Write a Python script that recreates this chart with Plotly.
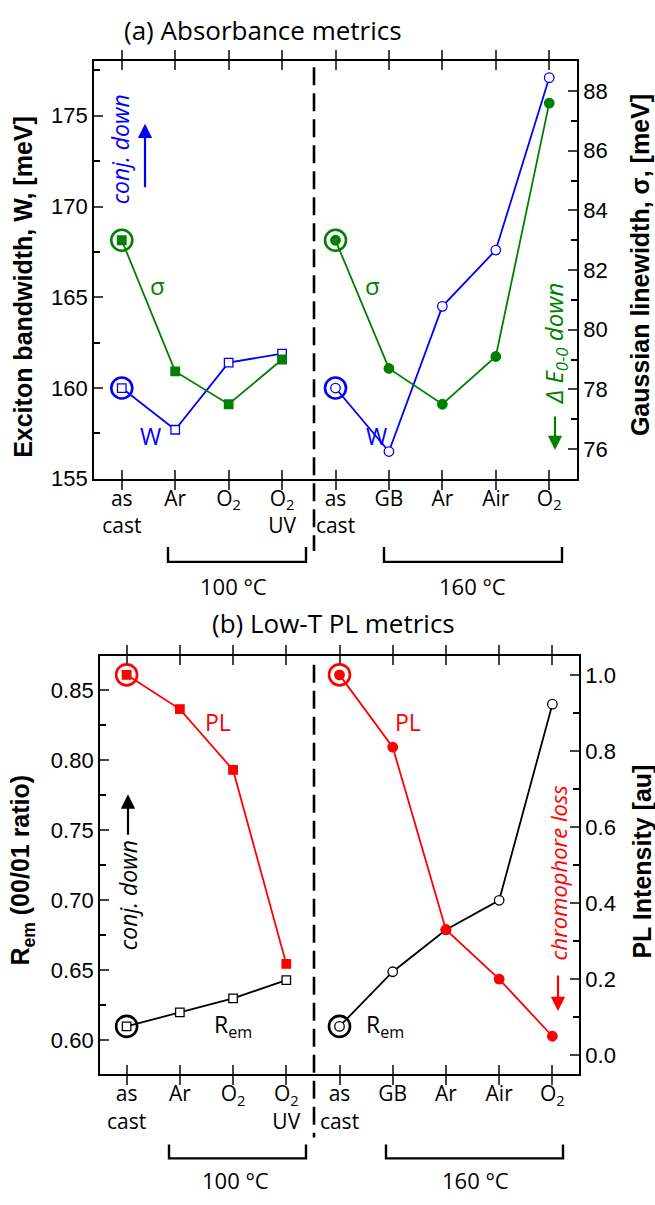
import plotly.graph_objects as go

# ---- data -------------------------------------------------------------
categories = ["as cast", "Ar", "O2", "O2 UV", "as cast", "GB", "Ar", "Air", "O2"]
tick_text = ["as<br>cast", "Ar", "O<sub>2</sub>", "O<sub>2</sub><br>UV",
             "as<br>cast", "GB", "Ar", "Air", "O<sub>2</sub>"]
x_100 = [0, 1, 2, 3]          # as cast + 100 °C anneals
x_160 = [4, 5, 6, 7, 8]       # as cast + 160 °C anneals

# (a) absorbance metrics
W_100 = [160.0, 157.7, 161.4, 161.9]               # exciton bandwidth [meV]
W_160 = [160.0, 156.5, 164.5, 167.6, 177.1]
sigma_100 = [83.0, 78.6, 77.5, 79.0]               # Gaussian linewidth [meV]
sigma_160 = [83.0, 78.7, 77.5, 79.1, 87.6]

# (b) low-T PL metrics
Rem_100 = [0.610, 0.620, 0.630, 0.643]             # 00/01 ratio
Rem_160 = [0.610, 0.649, 0.679, 0.700, 0.840]
PL_100 = [1.00, 0.91, 0.75, 0.24]                  # PL intensity [au]
PL_160 = [1.00, 0.81, 0.33, 0.20, 0.05]

BLUE = "#0000FF"
GREEN = "#008000"
RED = "#FF0000"
BLACK = "#000000"

W_PX, H_PX = 655, 1205


def px(x):
    return x / W_PX


def py(y):
    return 1 - y / H_PX


fig = go.Figure()


def series(x, y, xa, ya, color, symbol, filled):
    size = 8.5 if symbol == "square" else 9.5
    fig.add_trace(go.Scatter(
        x=x, y=y, xaxis=xa, yaxis=ya, mode="lines+markers",
        line=dict(color=color, width=1.8),
        marker=dict(symbol=symbol, size=size,
                    color=color if filled else "white",
                    line=dict(color=color, width=1.3)),
        showlegend=False, cliponaxis=False))


def ring(x, y, xa, ya, color):
    fig.add_trace(go.Scatter(
        x=[x], y=[y], xaxis=xa, yaxis=ya, mode="markers",
        marker=dict(symbol="circle-open", size=21, color=color,
                    line=dict(color=color, width=2.6)),
        showlegend=False, cliponaxis=False))


# panel (a)
series(x_100, sigma_100, "x", "y2", GREEN, "square", True)
series(x_160, sigma_160, "x", "y2", GREEN, "circle", True)
series(x_100, W_100, "x", "y", BLUE, "square", False)
series(x_160, W_160, "x", "y", BLUE, "circle", False)
ring(x_100[0], sigma_100[0], "x", "y2", GREEN)
ring(x_160[0], sigma_160[0], "x", "y2", GREEN)
ring(x_100[0], W_100[0], "x", "y", BLUE)
ring(x_160[0], W_160[0], "x", "y", BLUE)

# panel (b)
series(x_100, PL_100, "x2", "y4", RED, "square", True)
series(x_160, PL_160, "x2", "y4", RED, "circle", True)
series(x_100, Rem_100, "x2", "y3", BLACK, "square", False)
series(x_160, Rem_160, "x2", "y3", BLACK, "circle", False)
ring(x_100[0], PL_100[0], "x2", "y4", RED)
ring(x_160[0], PL_160[0], "x2", "y4", RED)
ring(x_100[0], Rem_100[0], "x2", "y3", BLACK)
ring(x_160[0], Rem_160[0], "x2", "y3", BLACK)

TICK_FONT = dict(family="Liberation Sans, Arial", size=22, color="black")
CAT_FONT = dict(family="Open Sans", size=21, color="black")

xcommon = dict(range=[-0.52, 8.52], tickmode="array", tickvals=list(range(9)),
               ticktext=tick_text, tickfont=CAT_FONT, ticks="inside", ticklen=9,
               tickwidth=1.5, showline=True, linecolor="black", linewidth=1.8,
               mirror="allticks", showgrid=False, zeroline=False)


def yaxis_cfg(rng, dtick, minor_dtick, side, tickformat=None, **kw):
    d = dict(range=rng, dtick=dtick, tick0=0, ticks="inside", ticklen=9,
             tickwidth=1.5, tickfont=TICK_FONT, showline=True, linecolor="black",
             linewidth=1.8, showgrid=False, zeroline=False, side=side,
             minor=dict(dtick=minor_dtick, ticks="inside", ticklen=6,
                        tickwidth=1.5, tickcolor="black", tick0=0))
    if tickformat:
        d["tickformat"] = tickformat
    d.update(kw)
    return d


fig.update_layout(
    width=W_PX, height=H_PX, margin=dict(l=0, r=0, t=0, b=0),
    paper_bgcolor="white", plot_bgcolor="white",
    xaxis=dict(xcommon, domain=[px(94), px(577)], anchor="y"),
    yaxis=yaxis_cfg([155, 178], 5, 2.5, "left",
                    domain=[py(484), py(62)], anchor="x"),
    yaxis2=yaxis_cfg([75, 89], 2, 1, "right", overlaying="y", anchor="x"),
    xaxis2=dict(xcommon, domain=[px(100), px(579)], anchor="y3", range=[-0.5, 8.5]),
    yaxis3=yaxis_cfg([0.5758, 0.8745], 0.05, 0.025, "left", tickformat=".2f",
                     domain=[py(1086), py(663)], anchor="x2"),
    yaxis4=yaxis_cfg([-0.05, 1.05], 0.2, 0.1, "right", tickformat=".1f",
                     overlaying="y3", anchor="x2"),
)

ann = []


def text(x, y, s, color=BLACK, size=21, family="Open Sans", angle=0, **kw):
    ann.append(dict(x=px(x), y=py(y), xref="paper", yref="paper", text=s,
                    showarrow=False, textangle=angle,
                    font=dict(family=family, size=size, color=color),
                    xanchor="center", yanchor="middle", **kw))


def arrow(x, y_tail, y_tip, color):
    ann.append(dict(x=px(x), y=py(y_tip), xref="paper", yref="paper",
                    axref="pixel", ayref="pixel", ax=0, ay=y_tail - y_tip,
                    text="", showarrow=True, arrowhead=2, arrowsize=1.3,
                    arrowwidth=2.2, arrowcolor=color))


# titles
text(263, 30, "(a) Absorbance metrics", size=26)
text(333, 630, "(b) Low-T PL metrics", size=26)

# axis titles
AX_FONT = "Liberation Sans, Arial"
text(23, 290, "<b>Exciton bandwidth, W, [meV]</b>", family=AX_FONT, size=25, angle=-90)
text(640, 268, "<b>Gaussian linewidth, σ, [meV]</b>", family=AX_FONT, size=25, angle=-90)
text(22, 880, "<b>R<sub>em</sub> (00/01 ratio)</b>", family=AX_FONT, size=25, angle=-90)
text(642, 871, "<b>PL Intensity [au]</b>", family=AX_FONT, size=25, angle=-90)

# series labels, panel (a)
text(157, 289, "σ", color=GREEN, size=24)
text(372, 289, "σ", color=GREEN, size=24)
text(150, 441, "W", color=BLUE, size=23)
text(376, 441, "W", color=BLUE, size=23)
text(120, 151, "<i>conj. down</i>", color=BLUE, size=23, angle=-90)
arrow(145, 190, 125, BLUE)
text(555, 348, "<i>Δ E<sub>0-0</sub> down</i>", color=GREEN, size=24, angle=-90)
arrow(555, 420, 455, GREEN)

# series labels, panel (b)
text(218, 730, "PL", color=RED, size=23)
text(408, 730, "PL", color=RED, size=23)
text(233, 1037, "R<sub>em</sub>", size=23)
text(385, 1037, "R<sub>em</sub>", size=23)
text(128, 905, "<i>conj. down</i>", size=23, angle=-90)
arrow(128, 845, 803, BLACK)
text(558, 882, "<i>chromophore loss</i>", color=RED, size=22, angle=-90)
arrow(558, 985, 1022, RED)

# temperature groups
text(233, 592, "100 °C", size=22)
text(472, 592, "160 °C", size=22)
text(235, 1193, "100 °C", size=22)
text(475, 1193, "160 °C", size=22)

fig.update_layout(annotations=ann)

shapes = []


def bracket(x0, x1, y_top, y_bot):
    shapes.append(dict(type="path", xref="paper", yref="paper",
                       path=f"M {px(x0)} {py(y_top)} L {px(x0)} {py(y_bot)} "
                            f"L {px(x1)} {py(y_bot)} L {px(x1)} {py(y_top)}",
                       line=dict(color=BLACK, width=2.4)))


bracket(168, 306, 553, 568)
bracket(384, 562, 553, 568)
bracket(169, 306, 1157, 1171)
bracket(386, 563, 1157, 1171)

# divider between the two anneal series
for y0, y1 in [(68, 557), (672, 1150)]:
    shapes.append(dict(type="line", xref="paper", yref="paper",
                       x0=px(314), x1=px(314), y0=py(y0), y1=py(y1),
                       line=dict(color=BLACK, width=2.6, dash="18px,8px")))

fig.update_layout(shapes=shapes)

fig.write_html("out.html")
